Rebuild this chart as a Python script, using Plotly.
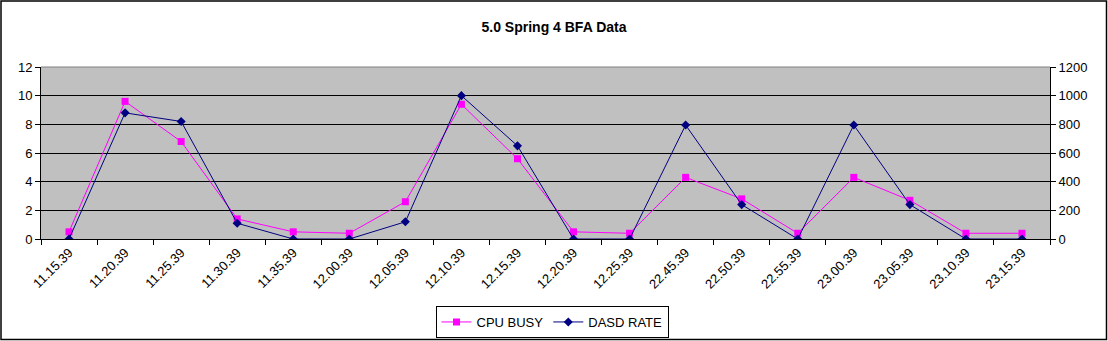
import plotly.graph_objects as go

times = ["11.15.39", "11.20.39", "11.25.39", "11.30.39", "11.35.39", "12.00.39",
         "12.05.39", "12.10.39", "12.15.39", "12.20.39", "12.25.39", "22.45.39",
         "22.50.39", "22.55.39", "23.00.39", "23.05.39", "23.10.39", "23.15.39"]
cpu_busy = [0.5, 9.6, 6.8, 1.4, 0.5, 0.4, 2.6, 9.4, 5.6, 0.5, 0.4, 4.3,
            2.8, 0.4, 4.3, 2.7, 0.4, 0.4]
dasd_rate = [0, 880, 820, 110, 0, 0, 120, 1000, 650, 0, 0, 795,
             240, 0, 795, 240, 0, 0]

W, H = 1108, 341
L, R, T, B = 41, 1050, 67, 239

fig = go.Figure()
fig.add_trace(go.Scatter(
    x=times, y=cpu_busy, name="CPU BUSY", mode="lines+markers",
    line=dict(color="#FF00FF", width=1),
    marker=dict(symbol="square", size=7, color="#FF00FF"),
    yaxis="y"))
fig.add_trace(go.Scatter(
    x=times, y=dasd_rate, name="DASD RATE", mode="lines+markers",
    line=dict(color="#000080", width=1),
    marker=dict(symbol="diamond", size=7, color="#000080"),
    yaxis="y2"))

font = "Arial, Liberation Sans, sans-serif"
px_w = R - L
px_h = B - T

fig.update_layout(
    width=W, height=H,
    margin=dict(l=L, r=W - R, t=T, b=H - B, pad=0, autoexpand=False),
    paper_bgcolor="white",
    plot_bgcolor="#C0C0C0",
    font=dict(family=font, size=13, color="black"),
    title=dict(text="<b>5.0 Spring 4 BFA Data</b>", x=0.5, xanchor="center",
               y=1 - 27 / H, yanchor="middle",
               font=dict(size=14, family=font, color="black")),
    showlegend=True,
    legend=dict(orientation="h", x=(552 - L) / px_w, xanchor="center",
                y=-(322 - B) / px_h, yanchor="middle",
                bordercolor="black", borderwidth=1, bgcolor="white",
                font=dict(size=13, family=font), itemwidth=30,
                tracegroupgap=0),
    xaxis=dict(type="category", tickson="boundaries", ticks="outside",
               ticklen=5, tickcolor="black", showgrid=False,
               showline=True, linecolor="black", linewidth=1,
               tickangle=-45, tickfont=dict(size=13, family=font),
               range=[-0.5, len(times) - 0.5], zeroline=False,
               automargin=False),
    yaxis=dict(range=[0, 12], dtick=2, ticks="outside", ticklen=5,
               tickcolor="black", showgrid=True, gridcolor="black",
               gridwidth=1, showline=True, linecolor="black",
               zeroline=False, tickfont=dict(size=13, family=font),
               automargin=False),
    yaxis2=dict(range=[0, 1200], dtick=200, overlaying="y", side="right",
                ticks="outside", ticklen=5, tickcolor="black",
                showgrid=False, showline=True, linecolor="black",
                zeroline=False, tickfont=dict(size=13, family=font),
                automargin=False),
    shapes=[
        # gray frame on the top edge of the plot area
        dict(type="line", xref="paper", yref="paper", x0=0, x1=1, y0=1, y1=1,
             line=dict(color="#808080", width=1)),
        # outer chart border
        dict(type="rect", xref="paper", yref="paper",
             x0=(1 - L) / px_w, x1=(W - 1.5 - L) / px_w,
             y0=(B - (H - 1.5)) / px_h, y1=(B - 1) / px_h,
             line=dict(color="black", width=1.5), layer="below"),
    ],
)

fig.write_html("out.html")
